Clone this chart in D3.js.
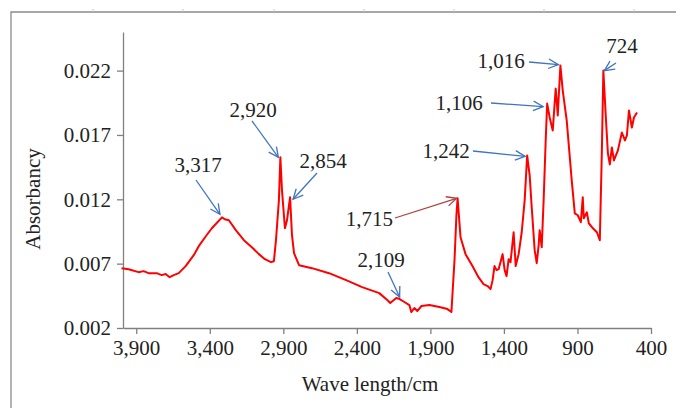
<!DOCTYPE html>
<html><head><meta charset="utf-8">
<script src="https://cdn.jsdelivr.net/npm/d3@7"></script>
<style>body{margin:0;background:#fff;}svg{display:block;}text{font-family:"Liberation Serif","Times New Roman",serif;fill:#222;}</style>
</head><body>
<svg id="c" width="676" height="408"></svg>
<script>
const wave = [4000,3952,3884,3850,3816,3761,3727,3700,3673,3645,3611,3564,3509,3475,3427,3386,3317,3298,3270,3223,3168,3114,3066,3025,2984,2964,2950,2943,2930,2920,2909,2889,2875,2854,2841,2827,2793,2705,2589,2473,2364,2248,2193,2173,2132,2109,2077,2043,2030,2009,1989,1961,1907,1839,1784,1757,1736,1723,1715,1695,1661,1614,1573,1539,1511,1491,1477,1464,1450,1436,1423,1409,1395,1382,1368,1355,1334,1320,1300,1279,1259,1242,1225,1211,1191,1177,1164,1157,1143,1130,1116,1106,1089,1068,1048,1041,1034,1027,1016,1000,973,952,939,918,898,877,864,857,836,823,795,768,748,734,724,707,693,680,666,652,625,598,577,564,550,530,516,495];
const absorb = [0.00665,0.00657,0.00634,0.00642,0.00626,0.00626,0.00611,0.00619,0.00595,0.00611,0.00626,0.00681,0.00766,0.00836,0.00913,0.00975,0.0106,0.01045,0.01037,0.0096,0.00882,0.00828,0.00774,0.00735,0.00712,0.00719,0.00882,0.00991,0.01192,0.01526,0.0127,0.00975,0.01037,0.01216,0.00921,0.00781,0.00688,0.00665,0.00626,0.00572,0.00518,0.00471,0.00417,0.00394,0.00433,0.00425,0.00402,0.00378,0.00324,0.00355,0.00332,0.00371,0.00378,0.00363,0.00347,0.00324,0.00727,0.01076,0.01208,0.00905,0.00774,0.00681,0.00595,0.00541,0.00526,0.00502,0.00572,0.00681,0.0065,0.00657,0.00712,0.00774,0.0065,0.00603,0.00735,0.00712,0.00944,0.00681,0.00774,0.00944,0.01192,0.01541,0.01386,0.01138,0.00805,0.00704,0.00843,0.0096,0.00828,0.01192,0.01657,0.01944,0.01836,0.01735,0.0206,0.01967,0.01851,0.02006,0.02239,0.02045,0.01812,0.01526,0.01347,0.01091,0.01076,0.01022,0.01216,0.01053,0.01099,0.01014,0.00975,0.00944,0.00882,0.0158,0.022,0.01836,0.01557,0.01471,0.01603,0.01502,0.0158,0.01719,0.01657,0.01696,0.0189,0.01758,0.01836,0.01874];
const xTicks = [3900,3400,2900,2400,1900,1400,900,400];
const yTicks = [0.002,0.007,0.012,0.017,0.022];
const peakLabels = ["3,317","2,920","2,854","2,109","1,715","1,242","1,106","1,016","724"];
const peakWaves = [3317,2920,2854,2109,1715,1242,1106,1016,724];
const peakAbs = [0.0106,0.01526,0.01216,0.00425,0.01208,0.01541,0.01944,0.02239,0.022];
const labelPos = [[198,172],[253,117],[323,168],[381,267],[393,226],[446,158],[459,110],[501,68],[622,53]];
const arrowStart = [[196,180],[252,121],[317,173],[388,272],[395,218],[473,151],[491,103],[529,62],[616,63]];
const arrowEndOff = [[-2,-3],[-2,0],[3,2],[0,-2],[-1,0],[-2,1],[-4,3],[-2,-1],[1,0]];
const arrowColors = ["#3f74c0","#3f74c0","#3f74c0","#3f74c0","#b04040","#3f74c0","#3f74c0","#3f74c0","#3f74c0"];

const svg = d3.select("#c");
const x = d3.scaleLinear().domain([3990,400]).range([123,651]);
const y = d3.scaleLinear().domain([0.002,0.025]).range([328,32]);

svg.append("path").attr("d","M11,408V12H676").attr("fill","none").attr("stroke","#8a8a8a").attr("stroke-width",1.3);
[93,183,274,364,454,544,634].forEach(t=>svg.append("line").attr("x1",t).attr("x2",t).attr("y1",9).attr("y2",12).attr("stroke","#b8c8e0").attr("stroke-width",1));

const FS = "21px";
const gx = svg.append("g").attr("transform","translate(0,328)")
  .call(d3.axisBottom(x).tickValues(xTicks).tickFormat(d3.format(",")).tickSize(6).tickSizeOuter(0).tickPadding(6));
const gy = svg.append("g").attr("transform","translate(123,0)")
  .call(d3.axisLeft(y).tickValues(yTicks).tickFormat(d3.format(".3f")).tickSize(6).tickSizeOuter(0).tickPadding(6));
[gx,gy].forEach(g=>{
  g.select(".domain").attr("stroke","#808080").attr("stroke-width",1.3);
  g.selectAll(".tick line").attr("stroke","#808080").attr("stroke-width",1.3);
  g.selectAll(".tick text").style("font-size",FS).attr("fill","#222");
});

svg.append("text").attr("x",370).attr("y",391).attr("text-anchor","middle").style("font-size",FS).text("Wave length/cm");
svg.append("text").attr("transform","translate(40,199) rotate(-90)").attr("text-anchor","middle").style("font-size",FS).text("Absorbancy");

const data = wave.map((w,i)=>[w,absorb[i]]);
svg.append("path").datum(data).attr("fill","none").attr("stroke","#ff0000").attr("stroke-width",2).attr("stroke-linejoin","round")
  .attr("d",d3.line().x(d=>x(d[0])).y(d=>y(d[1])));

peakLabels.forEach((lab,i)=>{
  const anchor = i===4 ? "end" : "middle";
  svg.append("text").attr("x",labelPos[i][0]).attr("y",labelPos[i][1]).attr("text-anchor",anchor).style("font-size",FS).text(lab);
  const x0 = arrowStart[i][0], y0 = arrowStart[i][1];
  const x1 = x(peakWaves[i])+arrowEndOff[i][0], y1 = y(peakAbs[i])+arrowEndOff[i][1];
  const col = arrowColors[i];
  svg.append("line").attr("x1",x0).attr("y1",y0).attr("x2",x1).attr("y2",y1).attr("stroke",col).attr("stroke-width",1.3);
  const ang = Math.atan2(y1-y0,x1-x0), L=11, a=0.45;
  const p1=[x1-L*Math.cos(ang-a),y1-L*Math.sin(ang-a)], p2=[x1-L*Math.cos(ang+a),y1-L*Math.sin(ang+a)];
  svg.append("path").attr("d",`M${p1}L${x1},${y1}L${p2}`).attr("fill","none").attr("stroke",col).attr("stroke-width",1.3);
});
</script>
</body></html>
